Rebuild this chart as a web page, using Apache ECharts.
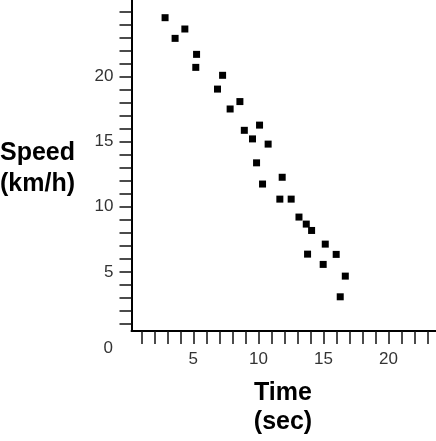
<!DOCTYPE html>
<html>
<head>
<meta charset="utf-8">
<script src="https://cdn.jsdelivr.net/npm/echarts@6/dist/echarts.min.js"></script>
<style>
html,body{margin:0;padding:0;background:#fff;}
#c{width:436px;height:441px;}
</style>
</head>
<body>
<div id="c"></div>
<script>
// Data
var timeSec = [2.83, 3.6, 4.35, 5.25, 5.19, 7.25, 6.86, 8.58, 7.83, 8.92, 10.09, 9.55, 10.75, 9.86, 11.83, 10.32, 11.65, 12.52, 13.12, 13.68, 14.09, 15.14, 13.78, 15.98, 14.98, 16.68, 16.29];
var speedKmh = [24.54, 22.95, 23.67, 21.72, 20.72, 20.11, 19.05, 18.09, 17.52, 15.88, 16.28, 15.22, 14.82, 13.38, 12.27, 11.75, 10.59, 10.59, 9.21, 8.67, 8.18, 7.13, 6.36, 6.34, 5.57, 4.67, 3.08];
var xTicks = [1,2,3,4,5,6,7,8,9,10,11,12,13,14,15,16,17,18,19,20,21,22,23];
var yTicks = [1,2,3,4,5,6,7,8,9,10,11,12,13,14,15,16,17,18,19,20,21,22,23,24,25];
var xLabels = [5, 10, 15, 20];
var yLabels = [5, 10, 15, 20];
var originLabel = '0';
var yTitle = ['Speed', '(km/h)'];
var xTitle = ['Time', '(sec)'];

var pts = timeSec.map(function (t, i) { return [t, speedKmh[i]]; });
var FONT = 'Liberation Sans, Arial, Helvetica, sans-serif';

var chart = echarts.init(document.getElementById('c'), null, {renderer: 'canvas'});
chart.setOption({
  animation: false,
  backgroundColor: '#ffffff',
  grid: {left: 131.5, top: 0, right: 0, bottom: 110, containLabel: false},
  xAxis: {
    type: 'value', min: 0.25, max: 23.65,
    splitLine: {show: false},
    axisLine: {show: true, onZero: false, lineStyle: {color: '#000', width: 2}},
    axisTick: {show: true, customValues: xTicks, length: 13, lineStyle: {color: '#111', width: 1.5}},
    axisLabel: {show: true, customValues: xLabels, margin: 20, fontSize: 17, color: '#333', fontFamily: FONT}
  },
  yAxis: {
    type: 'value', min: 0.45, max: 25.9,
    splitLine: {show: false},
    axisLine: {show: true, onZero: false, lineStyle: {color: '#000', width: 2}},
    axisTick: {show: true, customValues: yTicks, length: 12, lineStyle: {color: '#111', width: 1.5}},
    axisLabel: {show: true, customValues: yLabels, margin: 18, fontSize: 17, color: '#333', fontFamily: FONT}
  },
  series: [{
    type: 'scatter',
    data: pts,
    symbol: 'rect',
    symbolSize: 7,
    itemStyle: {color: '#000', opacity: 1}
  }],
  graphic: [
    {type: 'text', x: 108.3, y: 348.3, style: {text: originLabel, fontSize: 17, fill: '#333', font: '17px ' + FONT, textAlign: 'center', textVerticalAlign: 'middle'}},
    {type: 'text', x: 0, y: 153.5, style: {text: yTitle[0], fill: '#000', font: 'bold 25px ' + FONT, textAlign: 'left', textVerticalAlign: 'middle'}},
    {type: 'text', x: 0, y: 184.5, style: {text: yTitle[1], fill: '#000', font: 'bold 25px ' + FONT, textAlign: 'left', textVerticalAlign: 'middle'}},
    {type: 'text', x: 283, y: 393.5, style: {text: xTitle[0], fill: '#000', font: 'bold 25px ' + FONT, textAlign: 'center', textVerticalAlign: 'middle'}},
    {type: 'text', x: 283, y: 422.5, style: {text: xTitle[1], fill: '#000', font: 'bold 25px ' + FONT, textAlign: 'center', textVerticalAlign: 'middle'}}
  ]
});
</script>
</body>
</html>
